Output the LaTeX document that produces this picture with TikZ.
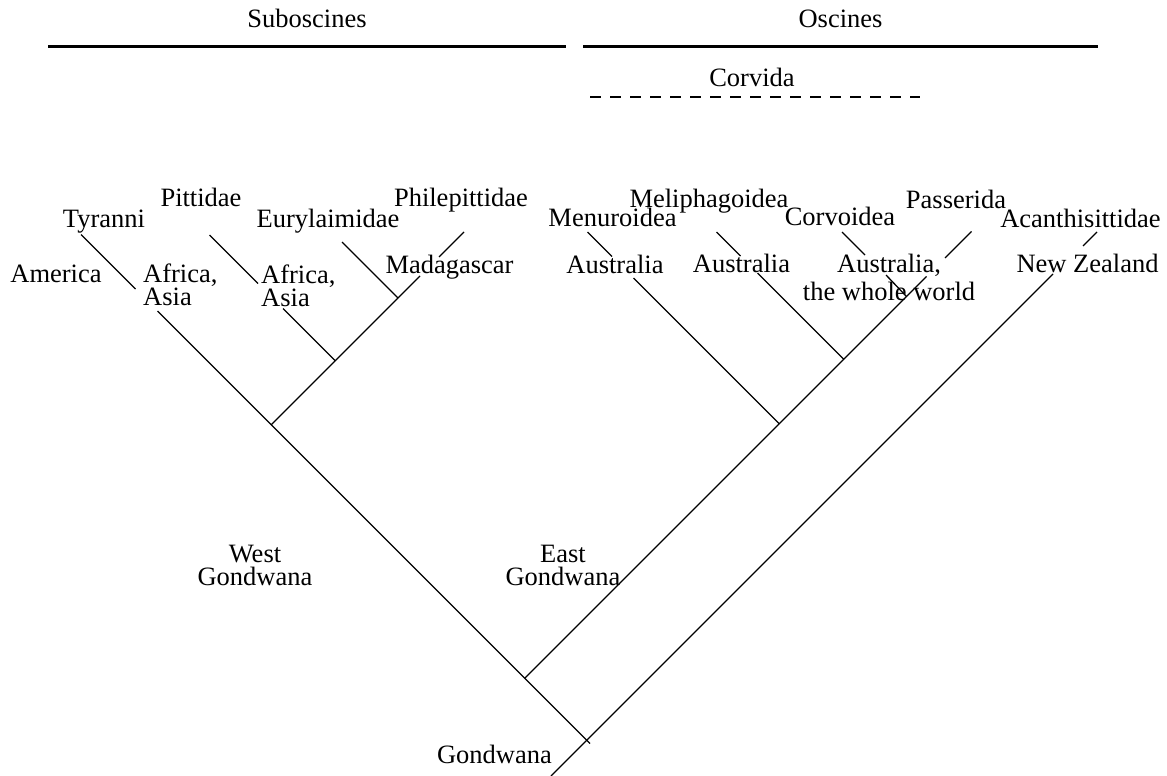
\documentclass[tikz,border=0pt]{standalone}
\usepackage{fontspec}
\setmainfont{Liberation Serif}
\begin{document}
\begin{tikzpicture}[x=1pt,y=-1pt,
  lbl/.style={font=\fontsize{26.5}{23}\selectfont, inner sep=0pt, anchor=base},
  branch/.style={line width=1.3pt},
  cladebar/.style={line width=2.2pt},
  cladedash/.style={line width=1.5pt, dash pattern=on 11pt off 9pt}]
\useasboundingbox (0,0) rectangle (1167,776);

% clade bars
\node[lbl] (sub) at (307,28) {Suboscines};
\node[lbl] (osc) at (840.5,28) {Oscines};
\coordinate (subL) at (48,46.5);  \coordinate (subR) at (566,46.5);
\coordinate (oscL) at (583,46.5); \coordinate (oscR) at (1098,46.5);
\draw[cladebar] (subL) -- (subR);
\draw[cladebar] (oscL) -- (oscR);
\node[lbl] (corvida) at (752,86) {Corvida};
\coordinate (cvL) at (590,97); \coordinate (cvR) at (920,97);
\draw[cladedash] (cvL) -- (cvR);

% junctions
\coordinate (A) at (586.75,740.25);
\coordinate (Aend) at (590,743.5);
\coordinate (B) at (524.75,678.25);
\coordinate (C) at (271.25,424.75);
\coordinate (D) at (335.25,360.75);
\coordinate (E) at (398,298);
\coordinate (F) at (779.25,423.75);
\coordinate (G) at (843.75,359.25);
\coordinate (H) at (906.5,296.5);

% branch ends
\coordinate (tyTop) at (81,234.5);   \coordinate (tyGapA) at (135.5,289); \coordinate (tyGapB) at (157.5,311);
\coordinate (piTop) at (209.5,235);  \coordinate (piGapA) at (258,283.5); \coordinate (piGapB) at (283,308.5);
\coordinate (euTop) at (342,242);
\coordinate (phGapA) at (420,276);   \coordinate (phGapB) at (439,257);   \coordinate (phTop) at (464,232);
\coordinate (meTop) at (587.5,232);  \coordinate (meGapA) at (612,256.5); \coordinate (meGapB) at (633.5,278);
\coordinate (mlTop) at (716.5,232);  \coordinate (mlGapA) at (740.5,256); \coordinate (mlGapB) at (757.5,273);
\coordinate (coTop) at (842,232);    \coordinate (coGapA) at (865,255);   \coordinate (coGapB) at (886,275);
\coordinate (paGapA) at (926.5,276.5); \coordinate (paGapB) at (945,258); \coordinate (paTop) at (971.5,231.5);
\coordinate (nzBot) at (551,776);    \coordinate (nzGapA) at (1053,274);  \coordinate (acGapB) at (1083,246); \coordinate (acTop) at (1097,232);

% West Gondwana
\draw[branch] (tyTop) -- (tyGapA);
\draw[branch] (tyGapB) -- (C) -- (B) -- (A) -- (Aend);
\draw[branch] (C) -- (D) -- (E) -- (phGapA);
\draw[branch] (phGapB) -- (phTop);
\draw[branch] (piTop) -- (piGapA);
\draw[branch] (piGapB) -- (D);
\draw[branch] (euTop) -- (E);

% East Gondwana
\draw[branch] (B) -- (F) -- (G) -- (H) -- (paGapA);
\draw[branch] (paGapB) -- (paTop);
\draw[branch] (meTop) -- (meGapA);
\draw[branch] (meGapB) -- (F);
\draw[branch] (mlTop) -- (mlGapA);
\draw[branch] (mlGapB) -- (G);
\draw[branch] (coTop) -- (coGapA);
\draw[branch] (coGapB) -- (H);
\draw[branch] (nzBot) -- (A) -- (nzGapA);
\draw[branch] (acGapB) -- (acTop);

% taxon labels
\node[lbl] (tyranni) at (104,227) {Tyranni};
\node[lbl] (pittidae) at (201,206) {Pittidae};
\node[lbl] (eury) at (328,227) {Eurylaimidae};
\node[lbl] (phil) at (461,206) {Philepittidae};
\node[lbl] (meli) at (709,207) {Meliphagoidea};
\node[lbl] (menu) at (612.5,226) {Menuroidea};
\node[lbl] (corvoidea) at (840,225) {Corvoidea};
\node[lbl] (passerida) at (956,208) {Passerida};
\node[lbl] (acan) at (1080.5,227) {Acanthisittidae};

% region labels (base anchor = baseline of the last line)
\node[lbl] (america) at (56,282) {America};
\node[lbl, anchor=base west, align=left] (afr1) at (143,305) {Africa,\\Asia};
\node[lbl, anchor=base west, align=left] (afr2) at (261,306) {Africa,\\Asia};
\node[lbl] (mada) at (449.5,273) {Madagascar};
\node[lbl] (aus1) at (615,273) {Australia};
\node[lbl] (aus2) at (741.5,272) {Australia};
\node[lbl, align=center] (aus3) at (889,300) {Australia,\\[5pt]the whole world};
\node[lbl] (nz) at (1087.5,272) {New Zealand};

\node[lbl, align=center] (westg) at (255,585) {West\\Gondwana};
\node[lbl, align=center] (eastg) at (563,585) {East\\Gondwana};
\node[lbl] (gondwana) at (494.5,763) {Gondwana};
\end{tikzpicture}
\end{document}
